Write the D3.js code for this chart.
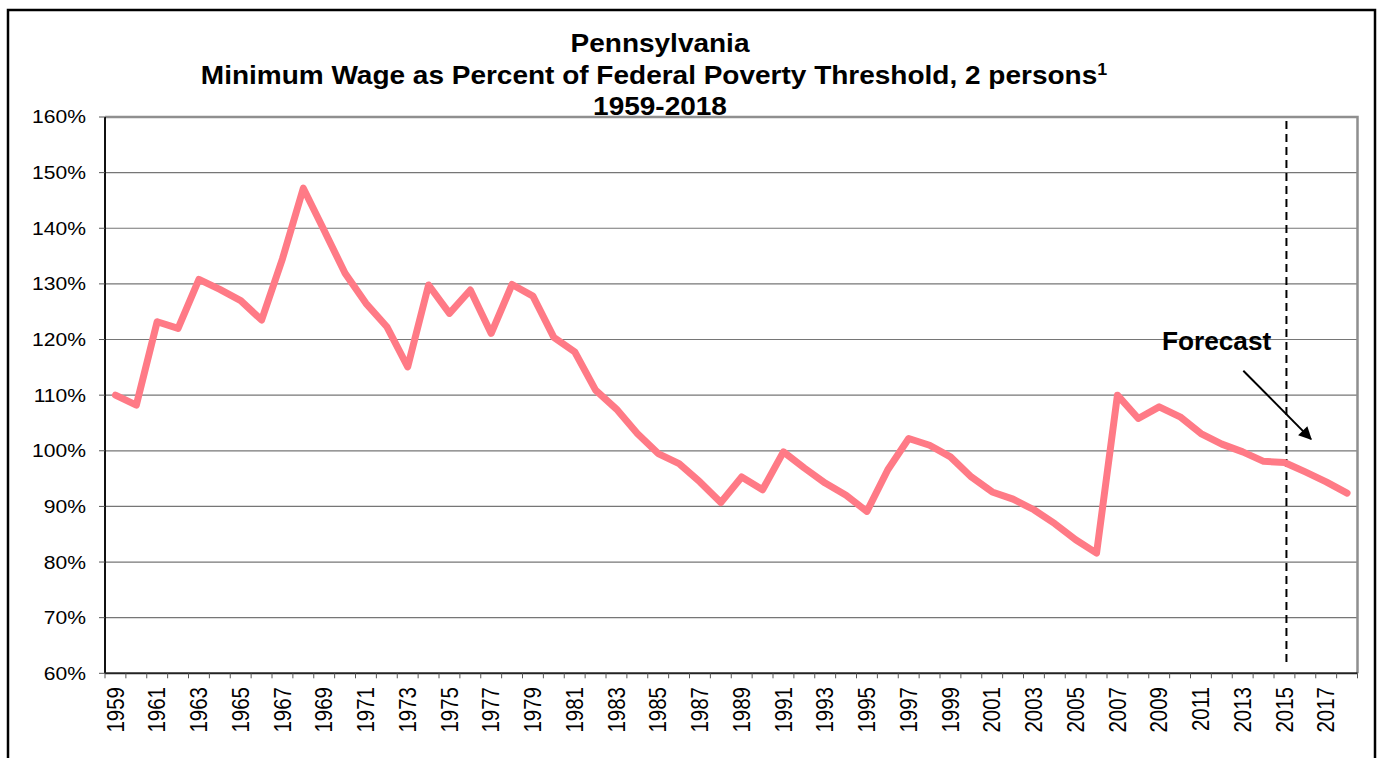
<!DOCTYPE html>
<html>
<head>
<meta charset="utf-8">
<script src="https://cdn.jsdelivr.net/npm/d3@7"></script>
<style>
  body { margin: 0; background: #fff; }
  text { font-family: "Liberation Sans", Arial, sans-serif; fill: #000; }
</style>
</head>
<body>
<div id="chart"></div>
<script>
var years = d3.range(1959, 2019)
var wagePct = [
    110.0, 108.2, 123.2, 122.0, 130.8, 129.0, 127.0, 123.5, 134.5, 147.2,
    139.6, 131.9, 126.5, 122.3, 115.1, 129.8, 124.7, 128.9, 121.1, 129.9,
    127.8, 120.4, 117.8, 110.9, 107.5, 103.1, 99.5, 97.7, 94.4, 90.7,
    95.3, 93.0, 99.8, 96.9, 94.2, 92.0, 89.1, 96.6, 102.2, 101.0,
    98.9, 95.3, 92.6, 91.3, 89.4, 86.9, 84.0, 81.6, 110.0, 105.8,
    107.9, 106.1, 103.1, 101.2, 99.8, 98.1, 97.9, 96.2, 94.4, 92.4
]
var yTicks = [60, 70, 80, 90, 100, 110, 120, 130, 140, 150, 160]
var titleLines = ["Pennsylvania", "Minimum Wage as Percent of Federal Poverty Threshold, 2 persons", "1959-2018"]
var forecastYear = 2015

var width = 1382
var height = 758
var pLeft = 105, pRight = 1357.5, pTop = 117, pBottom = 673.3
var sx = 1.14   // picture is a little wider than tall

var data = years.map((d, i) => ({ year: d, value: wagePct[i] }))

var x = d3.scaleBand().domain(years).range([pLeft, pRight]).padding(0)
var bw = x.bandwidth()
var xc = d => x(d) + bw / 2
var xAt = f => x(years[0]) + (f - years[0] + 0.5) * bw
var y = d3.scaleLinear().domain([60, 160]).range([pBottom, pTop])

var svg = d3.select("#chart")
    .append("svg")
    .attr("width", width)
    .attr("height", height)

svg.append("defs").append("marker")
    .attr("id", "arrow")
    .attr("viewBox", "0 0 10 10")
    .attr("refX", 9).attr("refY", 5)
    .attr("markerWidth", 15).attr("markerHeight", 13)
    .attr("markerUnits", "userSpaceOnUse")
    .attr("orient", "auto")
    .append("path")
    .attr("d", "M0,0 L10,5 L0,10 z")
    .attr("fill", "#000")

// outer frame
svg.append("rect")
    .attr("x", 8).attr("y", 10)
    .attr("width", 1367).attr("height", 770)
    .attr("fill", "none")
    .attr("stroke", "#000")
    .attr("stroke-width", 2.5)

// title
var title = svg.append("g")
    .selectAll("text")
    .data(titleLines)
    .join("text")
    .attr("transform", (d, i) => "translate(" + (i == 1 ? 654 : 660) + "," + (52 + i * 31.5) + ") scale(1.12,1)")
    .attr("text-anchor", "middle")
    .attr("font-size", 25)
    .attr("font-weight", "bold")
    .text(d => d)
title.filter((d, i) => i == 1)
    .append("tspan")
    .attr("font-size", 16)
    .attr("dy", -9)
    .text("1")

// gridlines
svg.append("g")
    .selectAll("line")
    .data(yTicks.filter(d => d > 60 && d < 160))
    .join("line")
    .attr("x1", pLeft).attr("x2", pRight)
    .attr("y1", d => y(d)).attr("y2", d => y(d))
    .attr("stroke", "#767676")
    .attr("stroke-width", 1.2)

// plot border top / right
svg.append("path")
    .attr("d", "M" + pLeft + "," + y(160) + "H" + pRight + "V" + pBottom)
    .attr("fill", "none")
    .attr("stroke", "#8f8f8f")
    .attr("stroke-width", 2.5)

// y axis
var yAxis = svg.append("g")
yAxis.append("line")
    .attr("x1", pLeft).attr("x2", pLeft)
    .attr("y1", pTop).attr("y2", pBottom)
    .attr("stroke", "#111").attr("stroke-width", 2)
yAxis.selectAll(".tk")
    .data(yTicks)
    .join("line")
    .attr("x1", pLeft - 6).attr("x2", pLeft)
    .attr("y1", d => y(d)).attr("y2", d => y(d))
    .attr("stroke", "#555").attr("stroke-width", 1)
yAxis.selectAll("text")
    .data(yTicks)
    .join("text")
    .attr("transform", d => "translate(86," + y(d) + ") scale(" + sx + ",1)")
    .attr("dy", "0.35em")
    .attr("text-anchor", "end")
    .attr("font-size", 18.5)
    .text(d => d + "%")

// x axis
var xAxis = svg.append("g")
xAxis.append("line")
    .attr("x1", pLeft).attr("x2", pRight)
    .attr("y1", pBottom).attr("y2", pBottom)
    .attr("stroke", "#222").attr("stroke-width", 2)
xAxis.selectAll(".tk")
    .data(years.concat([years[years.length - 1] + 1]))
    .join("line")
    .attr("x1", (d, i) => pLeft + i * bw).attr("x2", (d, i) => pLeft + i * bw)
    .attr("y1", pBottom).attr("y2", pBottom + 5)
    .attr("stroke", "#555").attr("stroke-width", 1)
xAxis.selectAll("text")
    .data(years.filter(d => (d - 1959) % 2 == 0))
    .join("text")
    .attr("transform", d => "translate(" + xc(d) + ",687) scale(" + sx + ",1) rotate(-90)")
    .attr("dy", "0.35em")
    .attr("text-anchor", "end")
    .attr("font-size", 20.5)
    .text(d => d)

// forecast divider
svg.append("line")
    .attr("x1", xc(forecastYear) + 2).attr("x2", xc(forecastYear) + 2)
    .attr("y1", pTop + 4).attr("y2", pBottom - 9)
    .attr("stroke", "#000")
    .attr("stroke-width", 2)
    .attr("stroke-dasharray", "8,5")

// the line
var line = d3.line()
    .x(d => xc(d.year))
    .y(d => y(d.value))

svg.append("path")
    .datum(data)
    .attr("d", line)
    .attr("fill", "none")
    .attr("stroke", "#ff7a86")
    .attr("stroke-width", 7)
    .attr("stroke-linejoin", "round")
    .attr("stroke-linecap", "round")

// forecast note
svg.append("text")
    .attr("transform", "translate(" + xAt(2009.13) + "," + y(118.1) + ") scale(1.05,1)")
    .attr("font-size", 25)
    .attr("font-weight", "bold")
    .text("Forecast")

svg.append("line")
    .attr("x1", xAt(2013.03)).attr("y1", y(114.4))
    .attr("x2", xAt(2016.27)).attr("y2", y(102.1))
    .attr("stroke", "#000")
    .attr("stroke-width", 2)
    .attr("marker-end", "url(#arrow)")
</script>
</body>
</html>
